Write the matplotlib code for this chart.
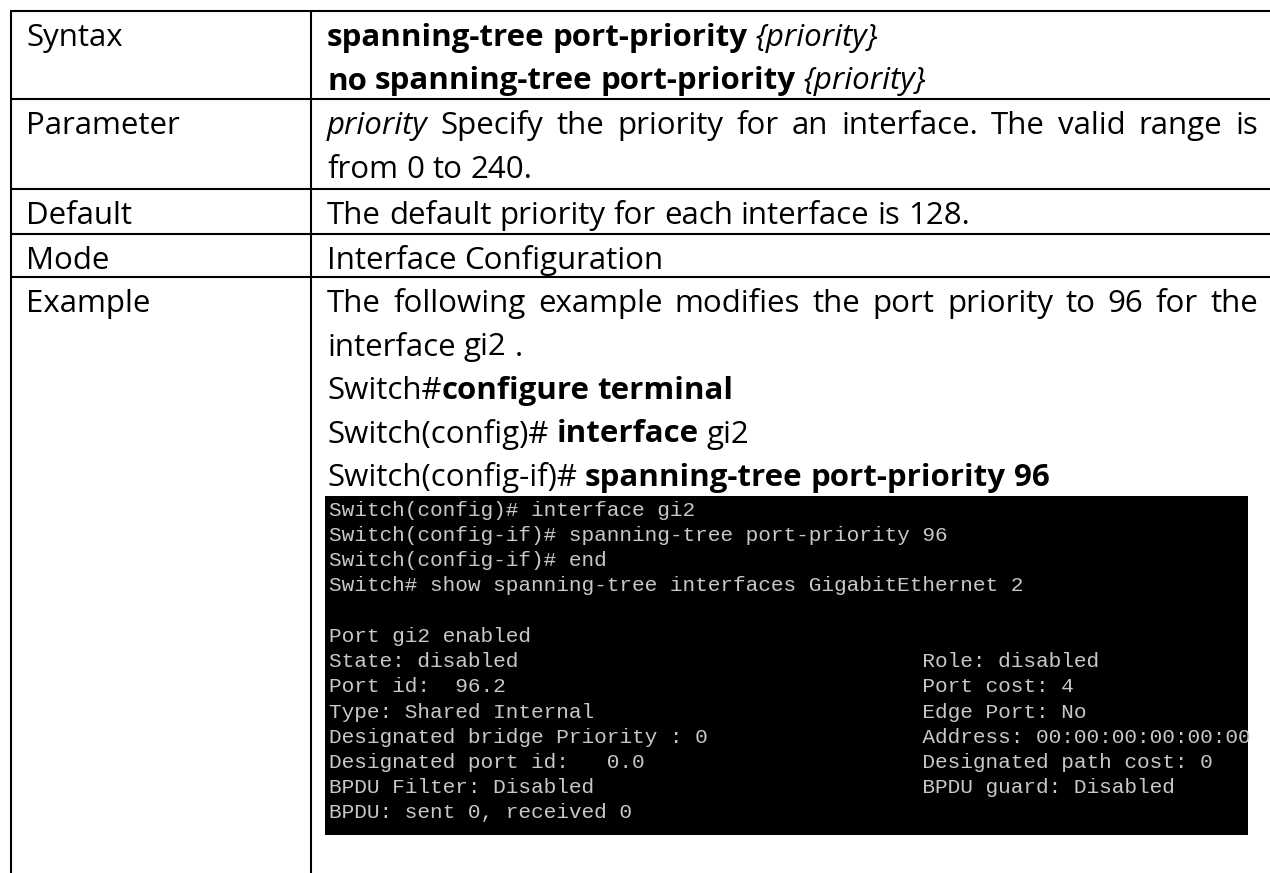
import matplotlib.pyplot as plt
from matplotlib.patches import Rectangle

# table content
labels = ["Syntax", "Parameter", "Default", "Mode", "Example"]
row_tops = [11, 99, 189, 234, 277]

syntax_lines = [
    [("spanning-tree port-priority ", "b"), ("{priority}", "i")],
    [("no spanning-tree port-priority ", "b"), ("{priority}", "i")],
]
parameter_lines = [
    [("priority", "i"), (" Specify the priority for an interface. The valid range is", "r")],
    [("from 0 to 240.", "r")],
]
default_lines = [[("The default priority for each interface is 128.", "r")]]
mode_lines = [[("Interface Configuration", "r")]]
example_lines = [
    [("The following example modifies the port priority to 96 for the", "r")],
    [("interface gi2 .", "r")],
    [("Switch#", "r"), ("configure terminal", "b")],
    [("Switch(config)# ", "r"), ("interface", "b"), (" gi2", "r")],
    [("Switch(config-if)# ", "r"), ("spanning-tree port-priority 96", "b")],
]
cells = [syntax_lines, parameter_lines, default_lines, mode_lines, example_lines]
justified = {(1, 0), (4, 0)}

term_left = [
    "Switch(config)# interface gi2",
    "Switch(config-if)# spanning-tree port-priority 96",
    "Switch(config-if)# end",
    "Switch# show spanning-tree interfaces GigabitEthernet 2",
    "",
    "Port gi2 enabled",
    "State: disabled",
    "Port id:  96.2",
    "Type: Shared Internal",
    "Designated bridge Priority : 0",
    "Designated port id:   0.0",
    "BPDU Filter: Disabled",
    "BPDU: sent 0, received 0",
]
term_right = ["", "", "", "", "", "",
              "Role: disabled",
              "Port cost: 4",
              "Edge Port: No",
              "Address: 00:00:00:00:00:00",
              "Designated path cost: 0",
              "BPDU guard: Disabled",
              ""]

W, H = 1270, 873
FONT = "Open Sans"
FS = 22.5
styles = {"r": dict(weight="normal", style="normal"),
          "b": dict(weight="bold", style="normal"),
          "i": dict(weight="normal", style="italic")}

fig = plt.figure(figsize=(W / 100, H / 100), dpi=100)
ax = fig.add_axes([0, 0, 1, 1])
ax.set_xlim(0, W)
ax.set_ylim(H, 0)
ax.axis("off")
renderer = fig.canvas.get_renderer()


def width_of(s, style):
    t = ax.text(0, 0, s, family=FONT, fontsize=FS, **styles[style])
    w = t.get_window_extent(renderer).width
    t.remove()
    return w


space_w = width_of("a a", "r") - width_of("aa", "r")


def split_tokens(runs):
    out = []
    pending = False
    for text, st in runs:
        parts = text.split(" ")
        for i, p in enumerate(parts):
            if i > 0:
                pending = True
            if p == "":
                continue
            out.append((p, st, pending and len(out) > 0))
            pending = False
    return out


def draw_line(x0, y, runs, right=None):
    toks = split_tokens(runs)
    widths = [width_of(w, st) for w, st, _ in toks]
    n_gaps = sum(1 for t in toks if t[2])
    gap = space_w
    if right is not None and n_gaps:
        gap = max(space_w, (right - x0 - sum(widths)) / n_gaps)
    x = x0
    for (w, st, sp), wd in zip(toks, widths):
        if sp:
            x += gap
        ax.text(x, y, w, family=FONT, fontsize=FS, va="baseline", ha="left",
                color="black", **styles[st])
        x += wd


# borders
col_x = 311
lw = 1.5
for y in row_tops:
    ax.plot([11, W], [y, y], color="black", lw=lw, solid_capstyle="butt")
ax.plot([11, 11], [11, H], color="black", lw=lw)
ax.plot([col_x, col_x], [11, H], color="black", lw=lw)

line_h = 43.5
for r, (lab, top) in enumerate(zip(labels, row_tops)):
    base = top + 35
    ax.text(26, base, lab, family=FONT, fontsize=FS, va="baseline", ha="left")
    for i, runs in enumerate(cells[r]):
        right = 1258 if (r, i) in justified else None
        draw_line(327, base + i * line_h, runs, right)

# terminal screenshot
box = Rectangle((325, 496), 923, 339, facecolor="black", edgecolor="none")
ax.add_patch(box)
for i, (l, rt) in enumerate(zip(term_left, term_right)):
    s = l.ljust(47) + rt if rt else l
    t = ax.text(329, 510 + i * 25.25, s, family="Liberation Mono", fontsize=15.2,
                color="#c8c8c8", va="center", ha="left")
    t.set_clip_path(box)

fig.savefig("out.png", dpi=100, facecolor="white")
